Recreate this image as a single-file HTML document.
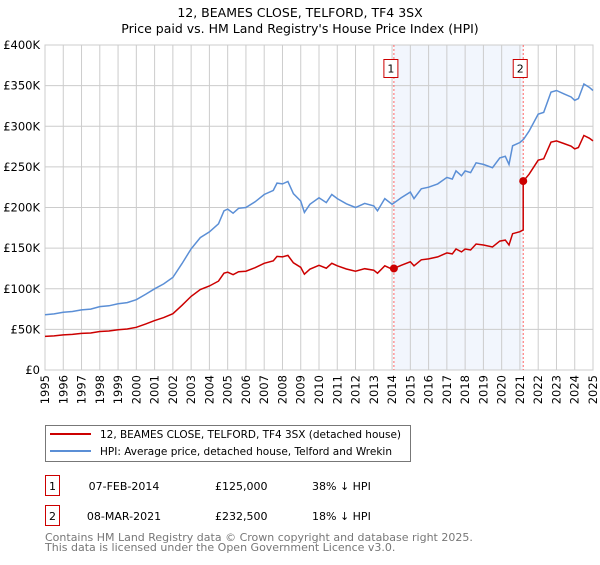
<!DOCTYPE html>
<html><head><meta charset="utf-8"><style>
body{margin:0;background:#fff;}
svg text{font-family:"DejaVu Sans","Liberation Sans",sans-serif;}
</style></head><body>
<svg id="c" width="600" height="560" viewBox="0 0 600 560" xmlns="http://www.w3.org/2000/svg">
<text x="300" y="17" text-anchor="middle" font-size="12.5" fill="#000">12, BEAMES CLOSE, TELFORD, TF4 3SX</text>
<text x="300" y="33" text-anchor="middle" font-size="12.5" fill="#000">Price paid vs. HM Land Registry's House Price Index (HPI)</text>
<g id="plot"></g>
<rect x="45.5" y="425.5" width="365" height="36" fill="#fff" stroke="#777"/>
<line x1="50" y1="434" x2="91" y2="434" stroke="#cc0000" stroke-width="2"/>
<text x="100" y="438" font-size="10.5" textLength="301">12, BEAMES CLOSE, TELFORD, TF4 3SX (detached house)</text>
<line x1="50" y1="451" x2="91" y2="451" stroke="#5b8fd6" stroke-width="2"/>
<text x="100" y="455" font-size="10.5" textLength="292">HPI: Average price, detached house, Telford and Wrekin</text>
<rect x="45.5" y="475.5" width="14" height="20" fill="#fff" stroke="#cc0000"/>
<text x="52.5" y="490" text-anchor="middle" font-size="11">1</text>
<text x="124" y="490" text-anchor="middle" font-size="11">07-FEB-2014</text>
<text x="215" y="490" font-size="11">£125,000</text>
<text x="312" y="490" font-size="11">38% ↓ HPI</text>
<rect x="45.5" y="505.5" width="14" height="20" fill="#fff" stroke="#cc0000"/>
<text x="52.5" y="520" text-anchor="middle" font-size="11">2</text>
<text x="124" y="520" text-anchor="middle" font-size="11">08-MAR-2021</text>
<text x="215" y="520" font-size="11">£232,500</text>
<text x="312" y="520" font-size="11">18% ↓ HPI</text>
<text x="45" y="541" font-size="11" fill="#777">Contains HM Land Registry data © Crown copyright and database right 2025.</text>
<text x="45" y="551" font-size="11" fill="#777">This data is licensed under the Open Government Licence v3.0.</text>
</svg>
<script>
const hpiT=[1995,1995.5,1996,1996.5,1997,1997.5,1998,1998.5,1999,1999.5,2000,2000.5,2001,2001.5,2002,2002.5,2003,2003.5,2004,2004.5,2004.8,2005,2005.3,2005.6,2006,2006.5,2007,2007.5,2007.7,2008,2008.3,2008.6,2009,2009.2,2009.5,2010,2010.4,2010.7,2011,2011.5,2012,2012.5,2013,2013.2,2013.6,2014,2014.5,2015,2015.2,2015.6,2016,2016.5,2017,2017.3,2017.5,2017.8,2018,2018.3,2018.6,2019,2019.5,2019.9,2020.2,2020.4,2020.6,2021,2021.2,2021.5,2022,2022.3,2022.7,2023,2023.4,2023.8,2024,2024.2,2024.5,2024.8,2025];
const hpiV=[68,69,71,72,74,75,78,79,81.5,83,86.5,93,100,106,114,131,149,163,170,180,196,198,193,199,200,207,216,221,230,229,232,217,208,194,204,212,206,216,211,204.5,200,205,202,196,211,204,212,219,211,223,225,229,237,235,245,239,245,243,255,253,249,261,263,253,276,280,284,294,315,317,342,344,340,336,332,334,352,348,344];
const saleT=[2014.1,2021.18];
const saleV=[125,232.5];
const saleLabels=["1","2"];
const yTicks=[0,50,100,150,200,250,300,350,400];
const yTickLabels=["£0","£50K","£100K","£150K","£200K","£250K","£300K","£350K","£400K"];
const xTicks=[];for(let y=1995;y<=2025;y++)xTicks.push(y);

const X0=45,X1=593,Y0=370,Y1=45;
const xs=t=>X0+(t-1995)/30*(X1-X0);
const ys=v=>Y0-v/400*(Y0-Y1);
const NS="http://www.w3.org/2000/svg";
const g=document.getElementById('plot');
function mk(tag,attrs){const e=document.createElementNS(NS,tag);for(const k in attrs)e.setAttribute(k,attrs[k]);g.appendChild(e);return e;}
function hpiAt(t){for(let i=0;i<hpiT.length-1;i++){if(t<=hpiT[i+1]){const f=(t-hpiT[i])/(hpiT[i+1]-hpiT[i]);return hpiV[i]+f*(hpiV[i+1]-hpiV[i]);}}return hpiV[hpiV.length-1];}

let sh=mk('rect',{x:xs(saleT[0]),y:Y1,width:xs(saleT[1])-xs(saleT[0]),height:Y0-Y1,fill:'#f2f6fd'});


yTicks.forEach((v,i)=>{
 let l=mk('line',{x1:X0,x2:X1,y1:ys(v),y2:ys(v),stroke:'#cccccc'});
 
 
 let t=mk('text',{x:40,y:ys(v)+4,'text-anchor':'end','font-size':'11.5'});t.textContent=yTickLabels[i];
 
 
});
xTicks.forEach(y=>{
 let l=mk('line',{x1:xs(y),x2:xs(y),y1:Y1,y2:Y0,stroke:'#cccccc'});
 
 
 let t=mk('text',{x:0,y:0,'text-anchor':'end','font-size':'11.5',transform:`translate(${xs(y)+4},${Y0+5}) rotate(-90)`});t.textContent=y;
 
 
});
let bd=mk('rect',{x:X0,y:Y1,width:X1-X0,height:Y0-Y1,fill:'none',stroke:'#cccccc'});


saleT.forEach((t,i)=>{
 let l=mk('line',{x1:xs(t),x2:xs(t),y1:Y1,y2:Y0,stroke:'#ff6666','stroke-dasharray':'2,2'});
 
 
 let b=mk('rect',{x:xs(t)-10,y:59.5,width:14,height:18,fill:'#fff',stroke:'#cc0000'});
 
 
 let tx=mk('text',{x:xs(t)-3,y:72.5,'text-anchor':'middle','font-size':'11'});tx.textContent=saleLabels[i];
 
 
});
let d='';hpiT.forEach((t,i)=>{d+=(i?'L':'M')+xs(t).toFixed(1)+','+ys(hpiV[i]).toFixed(1);});
let hp=mk('path',{d:d,fill:'none',stroke:'#5b8fd6','stroke-width':1.5});


function propAt(t){let k=-1;for(let i=0;i<saleT.length;i++)if(t>=saleT[i])k=i;if(k<0)k=0;return saleV[k]*hpiAt(t)/hpiAt(saleT[k]);}
const pts=hpiT.concat(saleT).sort((a,b)=>a-b);
let pd='';pts.forEach((t,i)=>{
 if(i&&t===saleT[1]){pd+='L'+xs(t).toFixed(1)+','+ys(saleV[0]*hpiAt(t)/hpiAt(saleT[0])).toFixed(1);}
 pd+=(i?'L':'M')+xs(t).toFixed(1)+','+ys(propAt(t)).toFixed(1);
});
let pp=mk('path',{d:pd,fill:'none',stroke:'#cc0000','stroke-width':1.5});


saleT.forEach((t,i)=>{
 let c=mk('circle',{cx:xs(t),cy:ys(saleV[i]),r:4,fill:'#cc0000'});
 
 
});
</script>
</body></html>
